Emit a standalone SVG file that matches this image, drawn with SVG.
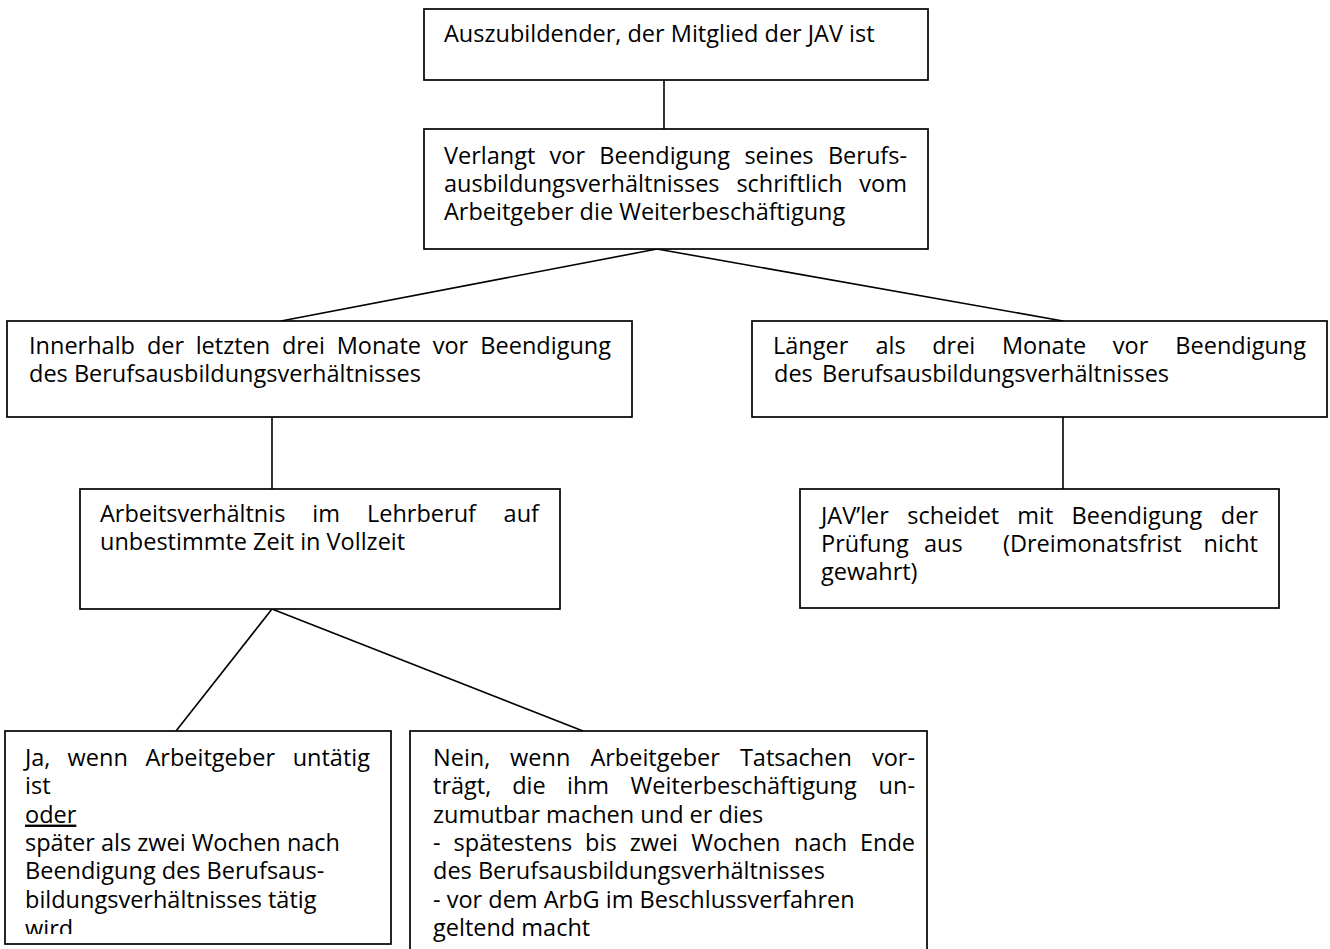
<svg xmlns="http://www.w3.org/2000/svg" width="1330" height="949" viewBox="0 0 1330 949">
<style>
.box{fill:#fff;stroke:#000;stroke-width:1.7}
.edge{stroke:#000;stroke-width:1.6;fill:none}
text{font-family:"Open Sans","Noto Sans","DejaVu Sans",sans-serif;font-size:23.5px;fill:#000}
.e{text-anchor:end}
</style>
<defs>
<clipPath id="clip7"><rect x="5" y="731" width="386" height="203"/></clipPath>
</defs>
<rect width="1330" height="949" fill="#fff"/>
<g id="connectors">
<line class="edge" x1="664" y1="80" x2="664" y2="129"/>
<line class="edge" x1="657" y1="249" x2="281" y2="321"/>
<line class="edge" x1="657" y1="249" x2="1063" y2="321"/>
<line class="edge" x1="272" y1="417" x2="272" y2="489"/>
<line class="edge" x1="1063" y1="417" x2="1063" y2="489"/>
<line class="edge" x1="272" y1="609" x2="176" y2="731"/>
<line class="edge" x1="272" y1="609" x2="583" y2="731"/>
</g>
<g id="n1">
<rect class="box" x="424" y="9" width="504" height="71"/>
<text x="444" y="42">Auszubildender, der Mitglied der JAV ist</text>
</g>
<g id="n2">
<rect class="box" x="424" y="129" width="504" height="120"/>
<text y="164"><tspan x="444">Verlangt</tspan><tspan x="549.6">vor</tspan><tspan x="599.3">Beendigung</tspan><tspan x="744.4">seines</tspan><tspan x="907" class="e">Berufs-</tspan></text>
<text y="192"><tspan x="444">ausbildungsverhältnisses</tspan><tspan x="736.4">schriftlich</tspan><tspan x="907" class="e">vom</tspan></text>
<text x="444" y="220">Arbeitgeber die Weiterbeschäftigung</text>
</g>
<g id="n3">
<rect class="box" x="7" y="321" width="625" height="96"/>
<text y="354"><tspan x="29">Innerhalb</tspan><tspan x="146.9">der</tspan><tspan x="195.7">letzten</tspan><tspan x="281.9">drei</tspan><tspan x="336.7">Monate</tspan><tspan x="432.7">vor</tspan><tspan x="611" class="e">Beendigung</tspan></text>
<text x="29" y="382">des Berufsausbildungsverhältnisses</text>
</g>
<g id="n4">
<rect class="box" x="752" y="321" width="575" height="96"/>
<text y="354"><tspan x="773">Länger</tspan><tspan x="875.5">als</tspan><tspan x="932.2">drei</tspan><tspan x="1001.9">Monate</tspan><tspan x="1112.8">vor</tspan><tspan x="1306" class="e">Beendigung</tspan></text>
<text y="382"><tspan x="774">des</tspan><tspan x="822">Berufsausbildungsverhältnisses</tspan></text>
</g>
<g id="n5">
<rect class="box" x="80" y="489" width="480" height="120"/>
<text y="522"><tspan x="100">Arbeitsverhältnis</tspan><tspan x="312.3">im</tspan><tspan x="367">Lehrberuf</tspan><tspan x="539" class="e">auf</tspan></text>
<text x="100" y="550">unbestimmte Zeit in Vollzeit</text>
</g>
<g id="n6">
<rect class="box" x="800" y="489" width="479" height="119"/>
<text y="524"><tspan x="821">JAV’ler</tspan><tspan x="907.3">scheidet</tspan><tspan x="1017.3">mit</tspan><tspan x="1071.6">Beendigung</tspan><tspan x="1258" class="e">der</tspan></text>
<text y="552"><tspan x="821">Prüfung</tspan><tspan x="924">aus</tspan><tspan x="1003">(Dreimonatsfrist</tspan><tspan x="1258" class="e">nicht</tspan></text>
<text x="821" y="580">gewahrt)</text>
</g>
<g id="n7">
<rect class="box" x="5" y="731" width="386" height="213"/>
<g clip-path="url(#clip7)">
<text y="766"><tspan x="25">Ja,</tspan><tspan x="67.6">wenn</tspan><tspan x="145.5">Arbeitgeber</tspan><tspan x="370" class="e">untätig</tspan></text>
<text x="25" y="794.3">ist</text>
<text x="25" y="822.6" text-decoration="underline">oder</text>
<text x="25" y="850.9">später als zwei Wochen nach</text>
<text x="25" y="879.2">Beendigung des Berufsaus-</text>
<text x="25" y="907.5">bildungsverhältnisses tätig</text>
<text x="25" y="936.5">wird</text>
</g>
</g>
<g id="n8">
<rect class="box" x="410" y="731" width="517" height="240"/>
<text y="766"><tspan x="433">Nein,</tspan><tspan x="510.1">wenn</tspan><tspan x="590.4">Arbeitgeber</tspan><tspan x="739.9">Tatsachen</tspan><tspan x="915" class="e">vor-</tspan></text>
<text y="794.3"><tspan x="433">trägt,</tspan><tspan x="512.2">die</tspan><tspan x="567">ihm</tspan><tspan x="630.6">Weiterbeschäftigung</tspan><tspan x="915" class="e">un-</tspan></text>
<text x="433" y="822.6">zumutbar machen und er dies</text>
<text y="850.9"><tspan x="433">-</tspan><tspan x="453.6">spätestens</tspan><tspan x="585.1">bis</tspan><tspan x="629.7">zwei</tspan><tspan x="691.3">Wochen</tspan><tspan x="794">nach</tspan><tspan x="915" class="e">Ende</tspan></text>
<text x="433" y="879.2">des Berufsausbildungsverhältnisses</text>
<text x="433" y="907.5">- vor dem ArbG im Beschlussverfahren</text>
<text x="433" y="935.8">geltend macht</text>
</g>
</svg>
